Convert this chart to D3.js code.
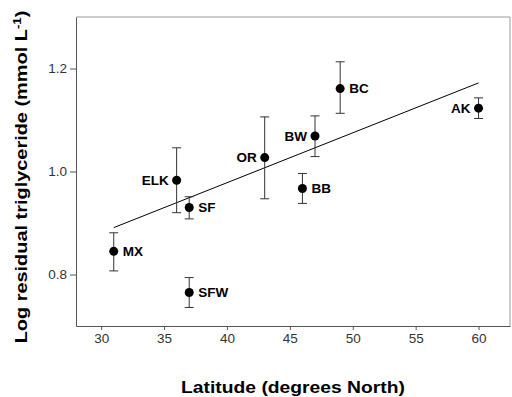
<!DOCTYPE html>
<html>
<head>
<meta charset="utf-8">
<script src="https://cdn.jsdelivr.net/npm/d3@7"></script>
<style>
  body { margin: 0; background: #fff; }
  svg { display: block; font-family: "Liberation Sans", Arial, sans-serif; }
  .site { font-weight: bold; font-size: 13.5px; fill: #000; }
  .title { font-weight: bold; font-size: 16.5px; fill: #000; }
</style>
</head>
<body>
<div id="chart"></div>
<script>
// sites, latitude and log residual triglyceride (mean with error bar ends)
const sites = ['MX', 'ELK', 'SF', 'SFW', 'OR', 'BB', 'BW', 'BC', 'AK'];
const latitude = [31, 36, 37, 37, 43, 46, 47, 49, 60];
const meanValue = [0.845, 0.983, 0.930, 0.765, 1.027, 0.967, 1.069, 1.161, 1.123];
const upperValue = [0.881, 1.046, 0.951, 0.794, 1.106, 0.996, 1.108, 1.213, 1.143];
const lowerValue = [0.807, 0.920, 0.908, 0.736, 0.947, 0.938, 1.029, 1.113, 1.103];
const labelSide = ['right', 'left', 'right', 'right', 'left', 'right', 'left', 'right', 'left'];

// fitted regression line end points
const fitLatitude = [31, 60];
const fitValue = [0.891, 1.172];

const xTicks = [30, 35, 40, 45, 50, 55, 60];
const yTicks = [0.8, 1.0, 1.2];

const width = 512, height = 397;
const margin = {top: 17, right: 2, bottom: 71, left: 76};

const svg = d3.select('#chart').append('svg')
    .attr('width', width).attr('height', height);

const x = d3.scaleLinear().domain([28, 62.5]).range([margin.left, width - margin.right]);
const y = d3.scaleLinear().domain([0.7, 1.3]).range([height - margin.bottom, margin.top]);

const data = sites.map((s, i) => ({
    site: s, lat: latitude[i], mean: meanValue[i],
    hi: upperValue[i], lo: lowerValue[i], side: labelSide[i]
}));

// frame top / right
svg.append('line')
    .attr('x1', x.range()[0]).attr('x2', x.range()[1])
    .attr('y1', y.range()[1]).attr('y2', y.range()[1])
    .attr('stroke', '#999');
svg.append('line')
    .attr('x1', x.range()[1]).attr('x2', x.range()[1])
    .attr('y1', y.range()[0]).attr('y2', y.range()[1])
    .attr('stroke', '#999');

const xAxis = svg.append('g')
    .attr('transform', 'translate(0,' + y.range()[0] + ')')
    .call(d3.axisBottom(x).tickValues(xTicks).tickSize(4).tickPadding(3).tickSizeOuter(0));
const yAxis = svg.append('g')
    .attr('transform', 'translate(' + x.range()[0] + ',0)')
    .call(d3.axisLeft(y).tickValues(yTicks).tickFormat(d3.format('.1f')).tickSize(6).tickPadding(3).tickSizeOuter(0));
[xAxis, yAxis].forEach(a => {
    a.select('.domain').attr('stroke', '#555');
    a.selectAll('.tick line').attr('stroke', '#555');
    a.selectAll('.tick text').attr('font-size', 13.5).attr('fill', '#333')
        .attr('font-family', '"Liberation Sans", Arial, sans-serif');
});

// regression line
const line = d3.line().x(d => x(d[0])).y(d => y(d[1]));
svg.append('path')
    .datum(fitLatitude.map((v, i) => [v, fitValue[i]]))
    .attr('d', line)
    .attr('fill', 'none').attr('stroke', '#000').attr('stroke-width', 1);

// error bars
const bars = svg.append('g').attr('stroke', '#333').attr('stroke-width', 1);
bars.selectAll('.stem').data(data).enter().append('line')
    .attr('x1', d => x(d.lat)).attr('x2', d => x(d.lat))
    .attr('y1', d => y(d.hi)).attr('y2', d => y(d.lo));
bars.selectAll('.capHi').data(data).enter().append('line')
    .attr('x1', d => x(d.lat) - 4.5).attr('x2', d => x(d.lat) + 4.5)
    .attr('y1', d => y(d.hi)).attr('y2', d => y(d.hi));
bars.selectAll('.capLo').data(data).enter().append('line')
    .attr('x1', d => x(d.lat) - 4.5).attr('x2', d => x(d.lat) + 4.5)
    .attr('y1', d => y(d.lo)).attr('y2', d => y(d.lo));

// points
svg.append('g').selectAll('circle').data(data).enter().append('circle')
    .attr('cx', d => x(d.lat)).attr('cy', d => y(d.mean))
    .attr('r', 4.5).attr('fill', '#000');

// site labels
svg.append('g').selectAll('text').data(data).enter().append('text')
    .attr('class', 'site')
    .attr('x', d => x(d.lat) + (d.side === 'right' ? 9 : -8))
    .attr('y', d => y(d.mean))
    .attr('dy', '0.36em')
    .attr('text-anchor', d => d.side === 'right' ? 'start' : 'end')
    .text(d => d.site);

// axis titles, stretched along the text to the widths seen in the reference
function stretched(g, len) {
    const w = g.node().getBBox().width;
    return len / w;
}

const xtG = svg.append('g');
const xt = xtG.append('text').attr('class', 'title').attr('text-anchor', 'middle')
    .text('Latitude (degrees North)');
xtG.attr('transform', 'translate(' + (x.range()[0] + x.range()[1]) / 2 + ',393) scale(' + stretched(xtG, 224) + ',1)');

const ytG = svg.append('g');
const yt = ytG.append('text').attr('class', 'title').attr('text-anchor', 'middle');
yt.append('tspan').text('Log residual triglyceride (mmol L');
yt.append('tspan').attr('dy', -6).attr('font-size', 11).text('-1');
yt.append('tspan').attr('dy', 6).text(')');
ytG.attr('transform', 'translate(26.5,177) rotate(-90) scale(' + stretched(ytG, 333) + ',1)');
</script>
</body>
</html>
